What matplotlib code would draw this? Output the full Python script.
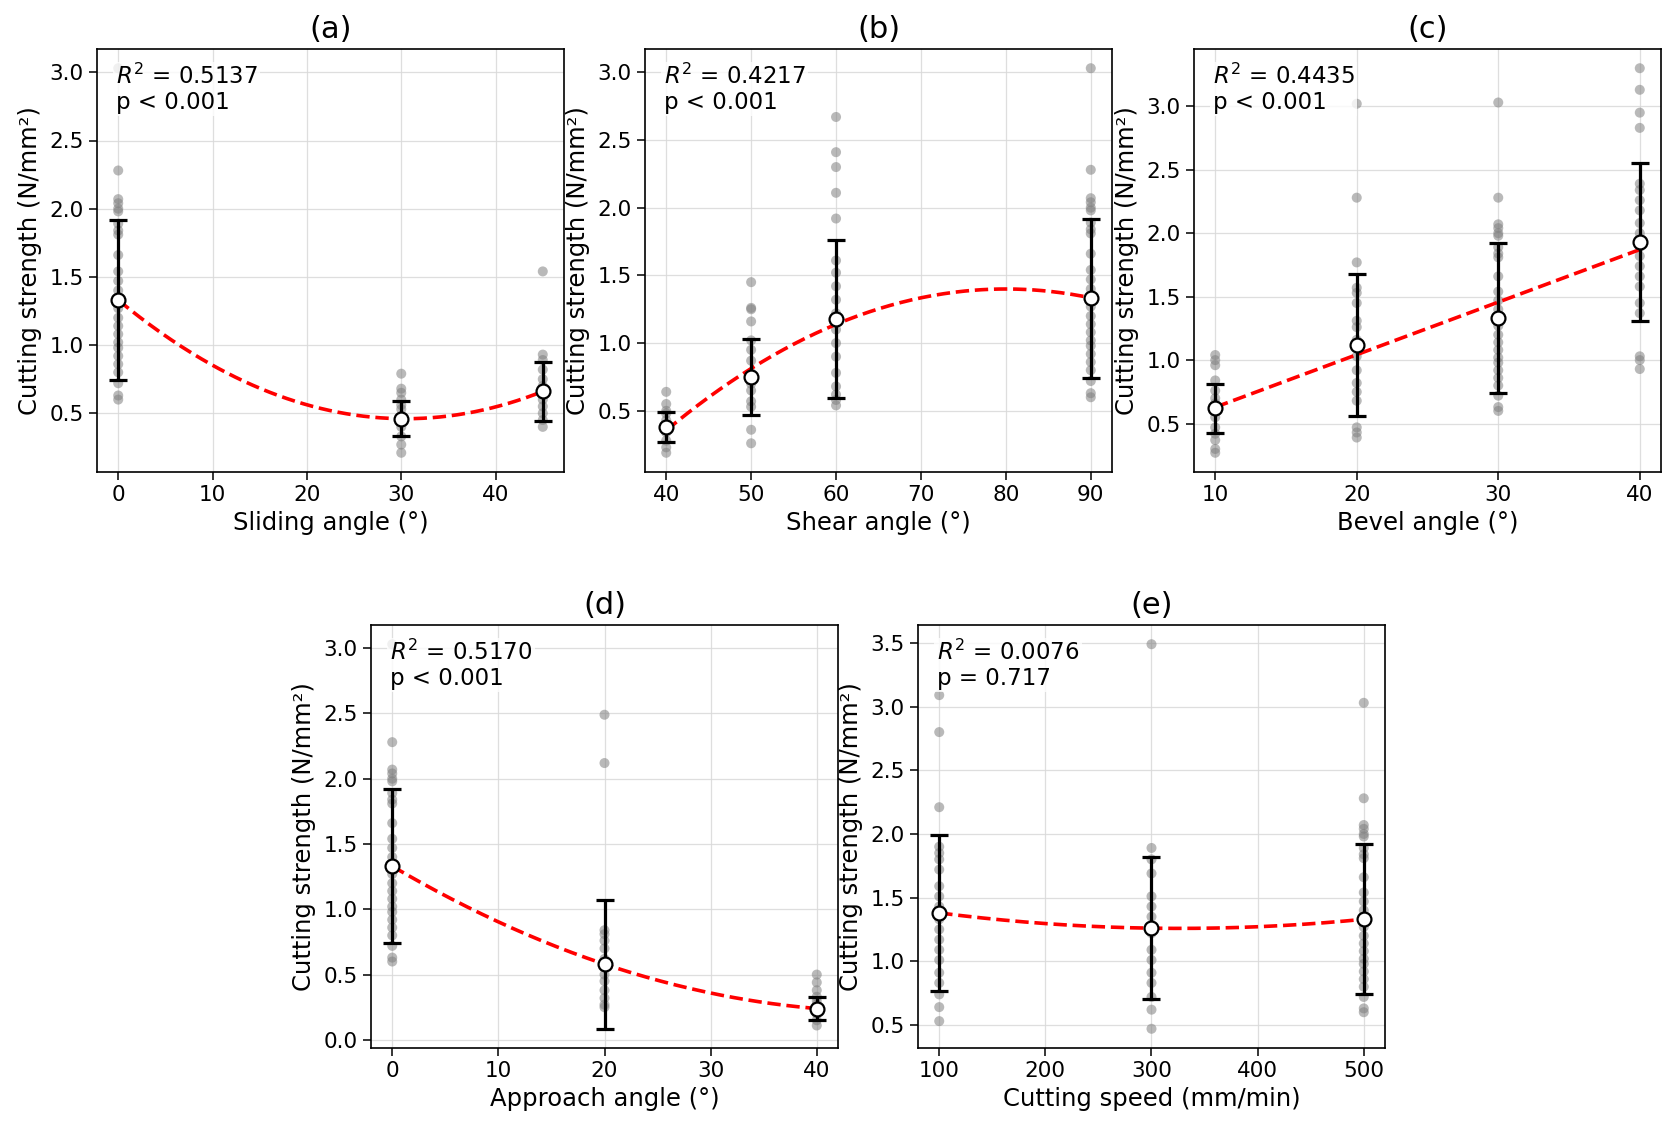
import numpy as np
import matplotlib
matplotlib.use("Agg")
import matplotlib.pyplot as plt

# ---------------- data ----------------
# common reference group (same distribution appears in several panels)
baseline_strength = [3.03, 2.28, 2.07, 2.04, 2.00, 1.98, 1.89, 1.84, 1.81, 1.66, 1.54,
                     1.47, 1.40, 1.32, 1.27, 1.20, 1.14, 1.08, 1.02, 0.98, 0.92,
                     0.86, 0.80, 0.72, 0.63, 0.60]

# (a) Sliding angle
a_levels = [0, 30, 45]
a_points = [baseline_strength,
            [0.79, 0.68, 0.65, 0.60, 0.56, 0.53, 0.48, 0.44, 0.40, 0.33, 0.27, 0.21],
            [1.54, 0.93, 0.89, 0.82, 0.75, 0.70, 0.66, 0.60, 0.55, 0.50, 0.45, 0.40]]
a_mean = [1.33, 0.46, 0.66]
a_sd = [0.59, 0.13, 0.215]

# (b) Shear angle
b_levels = [40, 50, 60, 90]
b_points = [[0.64, 0.55, 0.50, 0.48, 0.43, 0.38, 0.34, 0.28, 0.23, 0.19],
            [1.45, 1.26, 1.25, 1.16, 1.02, 0.95, 0.87, 0.78, 0.70, 0.65, 0.57, 0.53, 0.36, 0.26],
            [2.67, 2.41, 2.30, 2.11, 1.92, 1.61, 1.52, 1.42, 1.32, 1.22, 1.15, 1.10,
             1.00, 0.90, 0.78, 0.68, 0.62, 0.58, 0.54],
            baseline_strength]
b_mean = [0.38, 0.75, 1.18, 1.33]
b_sd = [0.11, 0.28, 0.585, 0.585]

# (c) Bevel angle
c_levels = [10, 20, 30, 40]
c_points = [[1.04, 1.00, 0.96, 0.84, 0.76, 0.70, 0.66, 0.60, 0.55, 0.47, 0.42, 0.37, 0.30, 0.27],
            [3.02, 2.28, 1.77, 1.57, 1.53, 1.45, 1.31, 1.26, 1.16, 1.03, 0.92, 0.82,
             0.75, 0.68, 0.47, 0.43, 0.39],
            baseline_strength,
            [3.30, 3.13, 2.95, 2.83, 2.39, 2.34, 2.26, 2.18, 2.08, 2.00, 1.89, 1.82,
             1.74, 1.66, 1.58, 1.45, 1.37, 1.03, 1.00, 0.93]]
c_mean = [0.62, 1.12, 1.33, 1.93]
c_sd = [0.195, 0.56, 0.59, 0.625]

# (d) Approach angle
d_levels = [0, 20, 40]
d_points = [baseline_strength,
            [2.49, 2.12, 0.84, 0.81, 0.76, 0.70, 0.62, 0.56, 0.50, 0.45, 0.38, 0.32, 0.27, 0.25],
            [0.50, 0.44, 0.38, 0.33, 0.30, 0.27, 0.23, 0.20, 0.15, 0.11]]
d_mean = [1.33, 0.58, 0.24]
d_sd = [0.59, 0.495, 0.09]

# (e) Cutting speed
e_levels = [100, 300, 500]
e_points = [[3.09, 2.80, 2.21, 1.90, 1.85, 1.80, 1.72, 1.59, 1.51, 1.43, 1.33, 1.25,
             1.17, 1.09, 1.01, 0.91, 0.83, 0.74, 0.64, 0.53],
            [3.49, 1.89, 1.80, 1.69, 1.51, 1.43, 1.35, 1.22, 1.09, 1.01, 0.91, 0.83,
             0.72, 0.62, 0.47],
            baseline_strength]
e_mean = [1.38, 1.26, 1.33]
e_sd = [0.615, 0.56, 0.59]

# ticks
a_xticks = [0, 10, 20, 30, 40]
b_xticks = [40, 50, 60, 70, 80, 90]
c_xticks = [10, 20, 30, 40]
d_xticks = [0, 10, 20, 30, 40]
e_xticks = [100, 200, 300, 400, 500]
abc_yticks = [0.5, 1.0, 1.5, 2.0, 2.5, 3.0]
d_yticks = [0.0, 0.5, 1.0, 1.5, 2.0, 2.5, 3.0]
e_yticks = [0.5, 1.0, 1.5, 2.0, 2.5, 3.0, 3.5]

titles = ["(a)", "(b)", "(c)", "(d)", "(e)"]
xlabels = ["Sliding angle (°)", "Shear angle (°)", "Bevel angle (°)",
           "Approach angle (°)", "Cutting speed (mm/min)"]
stats_text = ["$R^2$ = 0.5137\np < 0.001", "$R^2$ = 0.4217\np < 0.001",
              "$R^2$ = 0.4435\np < 0.001", "$R^2$ = 0.5170\np < 0.001",
              "$R^2$ = 0.0076\np = 0.717"]
fit_degree = [2, 2, 1, 2, 2]

# ---------------- figure ----------------
W, H = 1681, 1129
fig = plt.figure(figsize=(W / 100, H / 100), dpi=100)

boxes = [(97, 49), (645, 49), (1194, 49), (371, 625), (918, 625)]
aw, ah = 467, 423

panels = [
    (a_levels, a_points, a_mean, a_sd, a_xticks, abc_yticks),
    (b_levels, b_points, b_mean, b_sd, b_xticks, abc_yticks),
    (c_levels, c_points, c_mean, c_sd, c_xticks, abc_yticks),
    (d_levels, d_points, d_mean, d_sd, d_xticks, d_yticks),
    (e_levels, e_points, e_mean, e_sd, e_xticks, e_yticks),
]

for i, (levels, pts, means, sds, xt, yt) in enumerate(panels):
    x0, y0 = boxes[i]
    ax = fig.add_axes([x0 / W, 1 - (y0 + ah) / H, aw / W, ah / H])
    ax.set_axisbelow(True)
    ax.grid(True, color="#d9d9d9", linewidth=0.9, alpha=0.85)

    for lv, p in zip(levels, pts):
        ax.scatter(np.full(len(p), lv), p, s=52, color="gray", alpha=0.55,
                   edgecolors="none", zorder=2)

    coef = np.polyfit(levels, means, fit_degree[i])
    xs = np.linspace(min(levels), max(levels), 200)
    ax.plot(xs, np.polyval(coef, xs), "--", color="red", lw=2.6, zorder=3)

    ax.errorbar(levels, means, yerr=sds, fmt="none", ecolor="black",
                elinewidth=2.3, capsize=6.5, capthick=2.3, zorder=4)
    ax.plot(levels, means, "o", ms=10, mfc="white", mec="black", mew=1.6, zorder=5)

    ax.set_xticks(xt)
    ax.set_yticks(yt)
    ax.tick_params(labelsize=15.5, length=6, width=1.1)
    for sp in ax.spines.values():
        sp.set_linewidth(1.2)
    ax.set_xlabel(xlabels[i], fontsize=17.5, labelpad=4)
    ax.set_ylabel("Cutting strength (N/mm²)", fontsize=17.5, labelpad=5)
    ax.set_title(titles[i], fontsize=22, pad=8)
    ax.text(0.04, 0.965, stats_text[i], transform=ax.transAxes, ha="left", va="top",
            fontsize=16.5, linespacing=1.12, zorder=6,
            bbox=dict(boxstyle="square,pad=0.1", facecolor="white", edgecolor="none", alpha=0.8))

fig.savefig("out.png", dpi=100)
